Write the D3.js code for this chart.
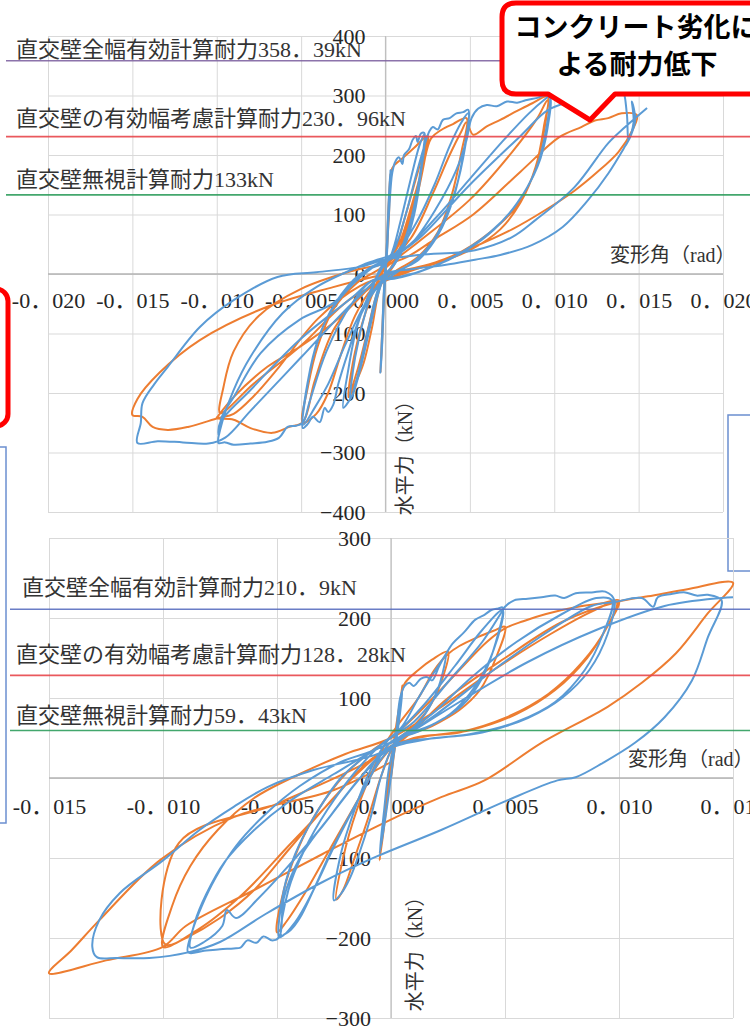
<!DOCTYPE html>
<html>
<head>
<meta charset="utf-8">
<script src="https://cdn.jsdelivr.net/npm/d3@7"></script>
<style>
  html, body { margin: 0; padding: 0; background: #fff; }
  svg { display: block; }
  .tick text { font-family: "Liberation Serif", "Noto Sans CJK JP", serif; font-size: 22px; fill: #262626; }
</style>
</head>
<body>
<svg id="chart" width="750" height="1032"></svg>
<script>
// ---- Upper specimen: drift angle (rad) vs horizontal force (kN) ----
const topXTicks = [-0.020, -0.015, -0.010, -0.005, 0, 0.005, 0.010, 0.015, 0.020];
const topXLabels = ["-0．020", "-0．015", "-0．010", "-0．005", "0．000", "0．005", "0．010", "0．015", "0．020"];
const topYTicks = [-400, -300, -200, -100, 0, 100, 200, 300, 400];

const topRefValues = [358.39, 230.96, 133];
const topRefLabels = ["直交壁全幅有効計算耐力358．39kN", "直交壁の有効幅考慮計算耐力230．96kN", "直交壁無視計算耐力133kN"];

// analysis (orange)
const topOrange = [
  [0,0],[0.0001,60],[0.0002,125],[0.0003,168],[0.0002,105],[0.0001,45],[0,8],[-0.0001,-45],[-0.0002,-115],[-0.0003,-165],[-0.0002,-100],[-0.0001,-35],[0,10],
  [0.0002,95],[0.0004,178],[0.0009,192],[0.0017,212],[0.0025,232],
  [0.0022,185],[0.0017,120],[0.0010,55],[0.0004,15],[-0.0003,-20],[-0.0008,-90],[-0.0013,-150],[-0.0018,-185],[-0.0022,-207],
  [-0.0019,-150],[-0.0014,-85],[-0.0008,-35],[-0.0002,5],[0.0005,35],[0.0012,100],[0.0019,170],[0.0025,228],
  [0.0021,160],[0.0014,80],[0.0006,20],[-0.0004,-25],[-0.0011,-100],[-0.0017,-165],[-0.0022,-205],
  [-0.0018,-130],[-0.0010,-50],[0,12],[0.0008,50],[0.0016,120],[0.0022,178],[0.0027,228],[0.0033,242],[0.0040,252],[0.0048,262],
  [0.0045,205],[0.0039,130],[0.0031,70],[0.0019,28],[0.0006,5],[-0.0008,-25],[-0.0018,-70],[-0.0027,-140],[-0.0034,-200],[-0.0041,-235],[-0.0049,-250],
  [-0.0046,-190],[-0.0040,-120],[-0.0031,-60],[-0.0017,-15],[0,15],[0.0015,60],[0.0028,135],[0.0038,200],[0.0045,240],[0.0048,255],
  [0.0052,234],[0.0060,248],[0.0068,259],[0.0078,274],[0.0087,287],[0.0096,298],
  [0.0094,250],[0.0089,180],[0.0080,120],[0.0068,75],[0.0050,40],[0.0030,18],[0.0010,2],[-0.0010,-25],[-0.0030,-90],[-0.0042,-180],[-0.0049,-249],
  [-0.0057,-257],[-0.0067,-267],[-0.0080,-259],[-0.0090,-245],[-0.0100,-242],
  [-0.0099,-238],[-0.0090,-207],[-0.0070,-156],[-0.0051,-123],[-0.0030,-80],[-0.0012,-30],[0,10],[0.0020,55],[0.0050,125],[0.0075,205],[0.0090,262],[0.0096,292],
  [0.0094,240],[0.0088,170],[0.0078,115],[0.0062,70],[0.0040,30],[0.0010,0],[-0.0020,-40],[-0.0050,-120],[-0.0078,-184],[-0.0098,-234],
  [-0.0096,-190],[-0.0090,-130],[-0.0075,-70],[-0.0050,-25],[-0.0020,5],[0.0010,25],[0.0030,60],[0.0052,100],[0.0080,172],[0.0103,230],[0.0116,247],[0.0124,258],[0.0132,262],[0.0140,270],[0.0149,267],
  [0.0146,240],[0.0138,205],[0.0125,170],[0.0112,140],[0.0095,108],[0.0075,75],[0.0052,45],[0.0030,20],[0.0010,5],[-0.0015,-20],[-0.0040,-75],[-0.0063,-156],[-0.0078,-205],[-0.0090,-235],[-0.0099,-242],
  [-0.0117,-257],[-0.0129,-262],[-0.0138,-257],[-0.0144,-240],[-0.0150,-237],
  [-0.0147,-210],[-0.0134,-166],[-0.0110,-111],[-0.0070,-55],[-0.0031,-22],[0,0],[0.0020,12]
];

// test (blue)
const topBlue = [
  [0,0],[0.0001,60],[0.0002,130],[0.0003,175],[0.0002,110],[0.0001,40],[0,0],[-0.0001,-50],[-0.0002,-120],[-0.0003,-166],[-0.0002,-100],[-0.0001,-30],[0,15],
  [0.0002,100],[0.0004,170],[0.0006,190],[0.0008,196],[0.0010,185],[0.0011,200],[0.0014,210],[0.0016,225],[0.0018,232],[0.0019,222],[0.0021,236],[0.0023,237],
  [0.0021,170],[0.0017,100],[0.0011,45],[0.0005,15],[0,0],[-0.0005,-40],[-0.0010,-100],[-0.0015,-160],[-0.0019,-200],[-0.0022,-215],[-0.0025,-225],
  [-0.0022,-160],[-0.0017,-90],[-0.0010,-35],[-0.0003,5],[0.0003,30],[0.0009,90],[0.0015,160],[0.0020,215],[0.0023,235],
  [0.0020,160],[0.0014,80],[0.0006,22],[-0.0003,-15],[-0.0010,-90],[-0.0016,-165],[-0.0021,-212],
  [-0.0018,-140],[-0.0011,-55],[-0.0003,10],[0.0005,40],[0.0012,100],[0.0018,165],[0.0023,215],[0.0026,240],[0.0028,247],[0.0031,243],[0.0034,259],[0.0038,262],[0.0042,270],[0.0046,272],[0.0049,276],
  [0.0046,200],[0.0040,125],[0.0031,65],[0.0020,25],[0.0008,5],[-0.0004,-20],[-0.0014,-65],[-0.0022,-130],[-0.0028,-185],[-0.0031,-220],[-0.0034,-232],[-0.0036,-225],[-0.0039,-249],[-0.0043,-240],[-0.0046,-252],[-0.0049,-259],
  [-0.0047,-200],[-0.0042,-130],[-0.0034,-70],[-0.0022,-25],[-0.0008,10],[0.0006,35],[0.0018,85],[0.0029,150],[0.0038,215],[0.0045,255],[0.0049,270],
  [0.0046,195],[0.0039,120],[0.0028,55],[0.0014,15],[0,-5],[-0.0012,-50],[-0.0024,-120],[-0.0034,-185],[-0.0042,-225],[-0.0049,-254],
  [-0.0046,-180],[-0.0040,-110],[-0.0030,-50],[-0.0015,0],[0,20],[0.0015,50],[0.0030,110],[0.0042,175],[0.0048,225],[0.0051,262],[0.0055,278],[0.0060,284],[0.0066,282],[0.0072,290],[0.0078,288],[0.0083,292],[0.0090,296],[0.0097,301],
  [0.0096,245],[0.0090,180],[0.0078,119],[0.0064,74],[0.0048,40],[0.0028,12],[0.0008,-5],[-0.0007,-10],[-0.0020,-50],[-0.0035,-130],[-0.0045,-215],[-0.0049,-250],[-0.0053,-255],[-0.0058,-257],[-0.0063,-275],[-0.0070,-282],[-0.0080,-285],[-0.0090,-287],[-0.0095,-283],[-0.0099,-284],
  [-0.0098,-262],[-0.0090,-195],[-0.0080,-139],[-0.0061,-66],[-0.0041,-22],[-0.0011,18],[0.0010,40],[0.0030,95],[0.0050,160],[0.0070,225],[0.0085,270],[0.0095,295],[0.0097,299],
  [0.0095,240],[0.0089,175],[0.0077,115],[0.0062,70],[0.0046,38],[0.0026,10],[0.0005,-8],[-0.0007,-10],[-0.0020,-40],[-0.0051,-111],[-0.0080,-195],[-0.0098,-250],[-0.0099,-270],
  [-0.0097,-240],[-0.0090,-207],[-0.0074,-133],[-0.0051,-77],[-0.0031,-49],[-0.0012,5],[0.0008,35],
  [0.0020,60],[0.0050,150],[0.0080,232],[0.0096,275],[0.0110,290],[0.0125,300],[0.0135,306],[0.0140,312],[0.0143,270],[0.0144,225],[0.0147,255],[0.0146,290],[0.0148,260],[0.0145,230],
  [0.0142,215],[0.0132,169],[0.0120,124],[0.0105,79],[0.0087,49],[0.0068,32],[0.0053,24],[0.0035,15],[0.0015,8],[0,0],
  [-0.0020,-50],[-0.0050,-140],[-0.0080,-230],[-0.0095,-275],[-0.0105,-285],[-0.0120,-283],[-0.0135,-281],[-0.0147,-284],
  [-0.0145,-250],[-0.0144,-217],[-0.0137,-185],[-0.0129,-156],[-0.0110,-89],[-0.0090,-44],[-0.0064,-5],[-0.0041,3],[-0.0015,12],[-0.0002,23],
  [0.0020,32],[0.0053,40],[0.0075,62],[0.0089,91],[0.0112,146],[0.0132,220],[0.0142,247],[0.0155,279]
];

// ---- Lower specimen ----
const botXTicks = [-0.015, -0.010, -0.005, 0, 0.005, 0.010, 0.015];
const botXLabels = ["-0．015", "-0．010", "-0．005", "0．000", "0．005", "0．010", "0．015"];
const botYTicks = [-300, -200, -100, 0, 100, 200, 300];

const botRefValues = [210.9, 128.28, 59.43];
const botRefLabels = ["直交壁全幅有効計算耐力210．9kN", "直交壁の有効幅考慮計算耐力128．28kN", "直交壁無視計算耐力59．43kN"];

const botOrange = [
  [0,0],[0.0002,45],[0.0004,90],[0.0005,116],[0.0003,70],[0.0001,30],[-0.0001,-10],[-0.0003,-60],[-0.0005,-103],[-0.0003,-50],[-0.0001,0],[0.0001,40],
  [0.0004,95],[0.0006,118],[0.0012,135],[0.0018,148],[0.0025,158],
  [0.0022,120],[0.0016,85],[0.0008,60],[0.0002,45],[-0.0004,5],[-0.0010,-50],[-0.0016,-100],[-0.0021,-140],[-0.0024,-152],
  [-0.0021,-100],[-0.0015,-40],[-0.0008,10],[-0.0002,45],[0.0004,70],[0.0012,100],[0.0019,135],[0.0025,155],
  [0.0030,165],[0.0038,176],[0.0045,184],[0.0050,189],
  [0.0046,150],[0.0039,110],[0.0030,85],[0.0018,65],[0.0005,50],[-0.0005,20],[-0.0015,-30],[-0.0028,-95],[-0.0038,-145],[-0.0046,-180],[-0.0050,-193],
  [-0.0047,-140],[-0.0041,-90],[-0.0032,-40],[-0.0020,5],[-0.0008,35],[0.0002,55],[0.0015,90],[0.0030,135],[0.0042,170],[0.0050,187],
  [0.0058,196],[0.0068,205],[0.0082,214],[0.0092,218],[0.0100,222],
  [0.0095,190],[0.0086,150],[0.0072,110],[0.0055,80],[0.0035,60],[0.0015,52],[0,40],[-0.0015,5],[-0.0030,-40],[-0.0045,-90],[-0.0060,-140],[-0.0075,-175],[-0.0090,-200],[-0.0100,-211],
  [-0.0096,-160],[-0.0088,-110],[-0.0076,-65],[-0.0060,-25],[-0.0040,5],[-0.0020,30],[0,50],[0.0020,85],[0.0045,135],[0.0070,180],[0.0088,208],[0.0099,220],
  [0.0094,185],[0.0084,145],[0.0069,105],[0.0050,75],[0.0030,57],[0.0010,50],[-0.0008,25],[-0.0025,-25],[-0.0045,-85],[-0.0065,-145],[-0.0085,-190],[-0.0099,-208],
  [-0.0093,-81],[-0.0049,-31],[0.0001,39],
  [0.0025,100],[0.0050,150],[0.0075,195],[0.0099,220],[0.0115,228],[0.0130,236],[0.0150,244],
  [0.0139,206],[0.0125,156],[0.0110,119],[0.0095,89],[0.0066,44],[0.0041,-3],[0.0022,-24],[-0.0003,-56],[-0.0030,-95],[-0.0060,-140],[-0.0090,-185],[-0.0100,-211],[-0.0125,-228],[-0.0150,-244],
  [-0.0140,-215],[-0.0128,-178],[-0.0101,-102],[-0.0069,-49],[-0.0025,-15],[0,20]
];

const botBlue = [
  [0,0],[0.0002,50],[0.0004,95],[0.0005,110],[0.0003,60],[0.0001,25],[-0.0001,-20],[-0.0003,-60],[-0.0005,-94],[-0.0003,-40],[-0.0001,10],[0.0002,50],
  [0.0004,100],[0.0006,115],[0.0008,119],[0.0010,115],[0.0013,124],[0.0016,126],[0.0018,122],[0.0021,139],[0.0024,154],
  [0.0021,115],[0.0015,80],[0.0008,58],[0.0002,45],[-0.0004,5],[-0.0009,-50],[-0.0014,-95],[-0.0018,-125],[-0.0022,-145],[-0.0025,-153],
  [-0.0022,-95],[-0.0016,-40],[-0.0009,10],[-0.0002,45],[0.0005,65],[0.0012,100],[0.0018,128],[0.0023,150],
  [0.0027,168],[0.0032,182],[0.0037,198],[0.0041,204],[0.0044,210],[0.0047,212],[0.0049,213],
  [0.0046,170],[0.0040,125],[0.0031,90],[0.0019,68],[0.0006,52],[-0.0004,25],[-0.0014,-25],[-0.0026,-90],[-0.0034,-140],[-0.0040,-175],[-0.0044,-190],[-0.0047,-196],[-0.0049,-199],
  [-0.0047,-140],[-0.0042,-95],[-0.0034,-50],[-0.0022,0],[-0.0010,30],[0.0002,55],[0.0014,90],[0.0028,140],[0.0040,185],[0.0049,210],
  [0.0045,160],[0.0037,115],[0.0026,80],[0.0012,58],[0,45],[-0.0012,-15],[-0.0024,-80],[-0.0034,-140],[-0.0042,-180],[-0.0048,-197],
  [-0.0045,-140],[-0.0038,-90],[-0.0028,-40],[-0.0015,10],[-0.0003,45],[0.0010,70],[0.0025,120],[0.0040,170],[0.0048,205],[0.0050,214],[0.0054,222],[0.0060,224],[0.0066,226],[0.0072,228],[0.0076,225],[0.0081,231],[0.0088,232],[0.0094,233],[0.0098,222],
  [0.0095,180],[0.0087,135],[0.0075,100],[0.0060,75],[0.0040,57],[0.0020,50],[0.0002,42],[-0.0012,5],[-0.0026,-45],[-0.0040,-100],[-0.0047,-150],[-0.0049,-199],[-0.0052,-203],[-0.0056,-198],[-0.0059,-206],[-0.0063,-203],[-0.0066,-212],[-0.0069,-213],[-0.0075,-214],[-0.0082,-216],[-0.0089,-218],
  [-0.0087,-190],[-0.0083,-160],[-0.0077,-125],[-0.0068,-85],[-0.0055,-45],[-0.0040,-10],[-0.0022,20],[-0.0007,35],[0.0003,50],[0.0018,80],[0.0035,125],[0.0055,170],[0.0075,205],[0.0090,225],[0.0097,222],
  [0.0093,180],[0.0085,135],[0.0072,95],[0.0055,70],[0.0035,55],[0.0015,48],[-0.0002,35],[-0.0015,-5],[-0.0030,-60],[-0.0045,-110],[-0.0058,-150],[-0.0068,-175],[-0.0072,-165],[-0.0074,-185],[-0.0082,-205],[-0.0088,-212],
  [-0.0086,-180],[-0.0081,-145],[-0.0073,-105],[-0.0060,-65],[-0.0045,-30],[-0.0025,5],[-0.0007,35],[0.0003,48],
  [0.0020,80],[0.0045,135],[0.0070,185],[0.0088,215],[0.0098,220],[0.0110,225],[0.0115,214],[0.0117,226],[0.0123,230],[0.0129,232],[0.0134,228],[0.0139,229],[0.0145,222],
  [0.0139,176],[0.0132,122],[0.0120,76],[0.0107,44],[0.0093,19],[0.0081,1],[0.0073,-3],[0.0051,-28],[0.0022,-65],[-0.0007,-99],[-0.0030,-130],[-0.0055,-170],[-0.0075,-205],[-0.0089,-218],[-0.0106,-225],[-0.0120,-225],[-0.0129,-224],[-0.0131,-211],
  [-0.0128,-178],[-0.0119,-144],[-0.0100,-103],[-0.0084,-65],[-0.0069,-36],[-0.0054,-11],[-0.0034,10],[-0.0005,31],[0.0005,50],[0.0030,95],[0.0060,145],[0.0090,185],[0.0120,215],[0.0145,225],[0.0150,226]
];

const refColors = ["#8064a2", "#e8474c", "#2f9e5e"];
const botRefColors = ["#5a6fc0", "#e8474c", "#2f9e5e"];
const ORANGE = "#ed7d31", BLUE = "#5b9bd5";

const svg = d3.select("#chart");
const FONT = '"Liberation Serif", "Noto Sans CJK JP", serif';

function drawPanel(cfg) {
  const x = d3.scaleLinear().domain(cfg.xDomain).range(cfg.xRange);
  const y = d3.scaleLinear().domain(cfg.yDomain).range(cfg.yRange);
  const g = svg.append("g");
  const x0 = x(0), y0 = y(0);

  // grid
  g.append("g").attr("transform", `translate(0,${cfg.yRange[0]})`)
    .call(d3.axisBottom(x).tickValues(cfg.xTicks).tickSize(-(cfg.yRange[0] - cfg.yRange[1])).tickFormat(""))
    .call(a => a.select(".domain").remove())
    .call(a => a.selectAll("line").attr("stroke", "#d9d9d9"));
  g.append("g").attr("transform", `translate(${cfg.xRange[0]},0)`)
    .call(d3.axisLeft(y).tickValues(cfg.yTicks).tickSize(-(cfg.xRange[1] - cfg.xRange[0])).tickFormat(""))
    .call(a => a.select(".domain").remove())
    .call(a => a.selectAll("line").attr("stroke", "#d9d9d9"));

  // axis lines through the origin
  g.append("line").attr("x1", cfg.xRange[0]).attr("x2", cfg.xRange[1]).attr("y1", y0).attr("y2", y0).attr("stroke", "#b3b3b3").attr("stroke-width", 1.3);
  g.append("line").attr("x1", x0).attr("x2", x0).attr("y1", cfg.yRange[0]).attr("y2", cfg.yRange[1]).attr("stroke", "#bfbfbf").attr("stroke-width", 1.2);

  // tick labels
  g.append("g").attr("transform", `translate(0,${y0})`)
    .call(d3.axisBottom(x).tickValues(cfg.xTicks).tickSize(0).tickPadding(cfg.xPad).tickFormat((d, i) => cfg.xLabels[i]))
    .call(a => a.select(".domain").remove());
  g.append("g").attr("transform", `translate(${x0},0)`)
    .call(d3.axisLeft(y).tickValues(cfg.yTicks).tickSize(0).tickPadding(20))
    .call(a => a.select(".domain").remove());
  g.selectAll(".tick text").style("font-family", FONT).style("font-size", "22px").attr("fill", "#262626");

  // axis titles
  g.append("text").attr("x", cfg.xTitle[0]).attr("y", cfg.xTitle[1]).attr("dominant-baseline", "middle")
    .style("font-family", FONT).style("font-size", "20px").attr("fill", "#333").text("変形角（rad）");
  g.append("text").attr("transform", `translate(${cfg.yTitle[0]},${cfg.yTitle[1]}) rotate(-90)`)
    .attr("text-anchor", "middle").attr("dominant-baseline", "middle")
    .style("font-family", FONT).style("font-size", "20px").attr("fill", "#333").text("水平力（kN）");

  // hysteresis curves
  const line = d3.line().x(d => x(d[0])).y(d => y(d[1])).curve(d3.curveCatmullRom.alpha(0.5));
  g.append("path").datum(cfg.orange).attr("d", line).attr("fill", "none").attr("stroke", ORANGE).attr("stroke-width", 2).attr("stroke-linejoin", "round");
  g.append("path").datum(cfg.blue).attr("d", line).attr("fill", "none").attr("stroke", BLUE).attr("stroke-width", 2).attr("stroke-linejoin", "round");

  // calculated strength lines with labels
  cfg.refValues.forEach((v, i) => {
    g.append("line").attr("x1", cfg.refX0).attr("x2", 750).attr("y1", y(v)).attr("y2", y(v))
      .attr("stroke", cfg.refColors[i]).attr("stroke-width", 1.6).attr("opacity", 0.9);
    g.append("text").attr("x", cfg.refLabelX[i]).attr("y", cfg.refLabelY[i]).attr("dominant-baseline", "middle")
      .style("font-family", FONT).style("font-size", "22px").attr("fill", "#333").text(cfg.refLabels[i]);
  });
}

// side frames of neighbouring slide objects
svg.append("rect").attr("x", -30).attr("y", 289).attr("width", 38).attr("height", 137).attr("rx", 12)
  .attr("fill", "none").attr("stroke", "#ff0000").attr("stroke-width", 5);
svg.append("rect").attr("x", -10).attr("y", 447).attr("width", 16).attr("height", 376)
  .attr("fill", "none").attr("stroke", "#6b8fd0").attr("stroke-width", 1.5);
svg.append("rect").attr("x", 728).attr("y", 415).attr("width", 40).attr("height", 156)
  .attr("fill", "none").attr("stroke", "#6b8fd0").attr("stroke-width", 1.5);

drawPanel({
  xDomain: [-0.02, 0.02], xRange: [48, 723], yDomain: [-400, 400], yRange: [512, 36],
  xTicks: topXTicks, xLabels: topXLabels, yTicks: topYTicks, xPad: 18,
  xTitle: [610, 257], yTitle: [407, 453],
  orange: topOrange, blue: topBlue,
  refValues: topRefValues, refLabels: topRefLabels, refColors: refColors,
  refX0: 6, refLabelX: [16, 16, 16], refLabelY: [52, 121, 182]
});

drawPanel({
  xDomain: [-0.015, 0.015], xRange: [49, 733], yDomain: [-300, 300], yRange: [1018, 538],
  xTicks: botXTicks, xLabels: botXLabels, yTicks: botYTicks, xPad: 20,
  xTitle: [628, 761], yTitle: [417, 949],
  orange: botOrange, blue: botBlue,
  refValues: botRefValues, refLabels: botRefLabels, refColors: botRefColors,
  refX0: 10, refLabelX: [22, 16, 16], refLabelY: [590, 657, 718]
});

// callout
const cx0 = 502, cy0 = 3, cx1 = 775, cy1 = 94, r = 14;
const p = d3.path();
p.moveTo(cx0 + r, cy0);
p.lineTo(cx1, cy0);
p.lineTo(cx1, cy1);
p.lineTo(615, cy1);
p.lineTo(590, 120);
p.lineTo(548, cy1);
p.lineTo(cx0 + r, cy1);
p.quadraticCurveTo(cx0, cy1, cx0, cy1 - r);
p.lineTo(cx0, cy0 + r);
p.quadraticCurveTo(cx0, cy0, cx0 + r, cy0);
p.closePath();
svg.append("path").attr("d", p.toString()).attr("fill", "#fff").attr("stroke", "#ff0000").attr("stroke-width", 5).attr("stroke-linejoin", "round");
svg.append("text").attr("x", 636).attr("y", 30).attr("text-anchor", "middle").attr("dominant-baseline", "middle")
  .style("font-family", '"Noto Sans CJK JP", sans-serif').style("font-weight", "700").style("font-size", "27px").attr("fill", "#000")
  .text("コンクリート劣化に");
svg.append("text").attr("x", 637).attr("y", 67).attr("text-anchor", "middle").attr("dominant-baseline", "middle")
  .style("font-family", '"Noto Sans CJK JP", sans-serif').style("font-weight", "700").style("font-size", "27px").attr("fill", "#000")
  .text("よる耐力低下");
</script>
</body>
</html>
